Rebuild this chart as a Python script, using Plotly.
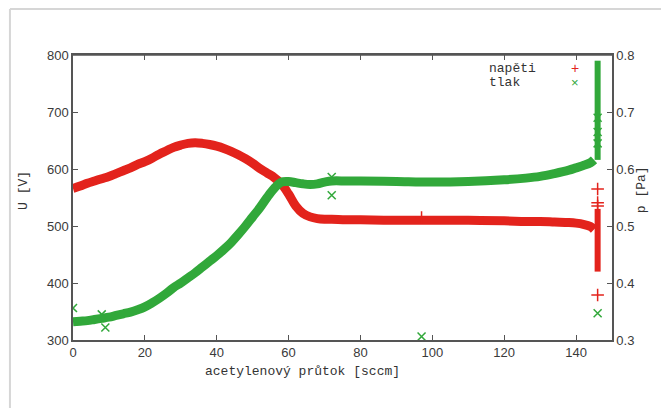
import plotly.graph_objects as go

# ---- data ----
flow = [0, 2, 4, 6, 8, 10, 12, 14, 16, 18, 20, 22, 24, 26, 28, 30, 32, 34, 36, 38,
        40, 42, 44, 46, 48, 50, 52, 54, 56, 58, 60, 62, 64, 66, 68, 70, 72, 76, 80,
        90, 100, 110, 120, 126, 130, 134, 138, 140, 142, 144, 145]
napeti = [566, 570, 575, 579, 583, 587, 592, 597, 602, 608, 613, 619, 626, 632, 638,
          642, 645, 646, 645, 643, 640, 636, 631, 625, 618, 610, 601, 593, 585, 574,
          556, 535, 522, 516, 513, 512, 512, 511, 511, 510, 510, 510, 509, 508, 508,
          507, 506, 505, 503, 499, 494]
tlak = [0.332, 0.333, 0.334, 0.336, 0.338, 0.340, 0.343, 0.346, 0.349, 0.353, 0.358,
        0.365, 0.373, 0.382, 0.392, 0.400, 0.409, 0.418, 0.428, 0.438, 0.448, 0.459,
        0.471, 0.485, 0.500, 0.516, 0.532, 0.550, 0.566, 0.577, 0.578, 0.576, 0.574,
        0.573, 0.574, 0.577, 0.579, 0.579, 0.579, 0.578, 0.577, 0.578, 0.581, 0.584,
        0.587, 0.592, 0.598, 0.602, 0.606, 0.611, 0.616]

# dense vertical spike at the end of the run
spike_flow = [146, 146]
spike_napeti = [530, 420]
spike_tlak = [0.616, 0.790]

# isolated points
out_napeti_x = [146, 146, 146, 146, 97]
out_napeti_y = [565, 541, 535, 379, 515]
out_tlak_x = [146, 97, 72, 72, 9, 8, 0, 146, 146, 146]
out_tlak_y = [0.347, 0.306, 0.554, 0.586, 0.322, 0.345, 0.356, 0.645, 0.665, 0.690]

RED = "#e3231c"
GREEN = "#31a83a"
AX = "#555555"

fig = go.Figure()

fig.add_trace(go.Scatter(x=flow, y=napeti, mode="lines", yaxis="y",
                         line=dict(color=RED, width=9, shape="spline"),
                         showlegend=False, hoverinfo="skip"))
fig.add_trace(go.Scatter(x=flow, y=tlak, mode="lines", yaxis="y2",
                         line=dict(color=GREEN, width=9, shape="spline"),
                         showlegend=False, hoverinfo="skip"))
fig.add_trace(go.Scatter(x=spike_flow, y=spike_napeti, mode="lines", yaxis="y",
                         line=dict(color=RED, width=6), showlegend=False))
fig.add_trace(go.Scatter(x=spike_flow, y=spike_tlak, mode="lines", yaxis="y2",
                         line=dict(color=GREEN, width=6), showlegend=False))
fig.add_trace(go.Scatter(x=out_napeti_x, y=out_napeti_y, mode="markers", yaxis="y",
                         marker=dict(symbol="cross-thin", size=9,
                                     line=dict(color=RED, width=1.5)),
                         showlegend=False))
fig.add_trace(go.Scatter(x=out_tlak_x, y=out_tlak_y, mode="markers", yaxis="y2",
                         marker=dict(symbol="x-thin", size=8,
                                     line=dict(color=GREEN, width=1.5)),
                         showlegend=False))

tickfont = dict(family="Liberation Sans, Arial, sans-serif", size=13, color="#3a3a3a")
mono = dict(family="Liberation Mono, Courier New, monospace", size=13, color="#333")

fig.update_layout(
    width=661, height=400,
    margin=dict(l=65, r=57, t=47, b=68),
    paper_bgcolor="white", plot_bgcolor="white",
    showlegend=False,
    xaxis=dict(range=[0, 150], dtick=20, tick0=0, showgrid=False, zeroline=False,
               showline=True, linecolor=AX, linewidth=1.5, mirror="ticks",
               ticks="inside", ticklen=5, tickcolor=AX, tickfont=tickfont),
    yaxis=dict(range=[300, 800], dtick=100, showgrid=False, zeroline=False,
               showline=True, linecolor=AX, linewidth=1.5, mirror=False,
               ticks="inside", ticklen=5, tickcolor=AX, tickfont=tickfont),
    yaxis2=dict(range=[0.3, 0.8], dtick=0.1, tickformat=".1f", overlaying="y",
                side="right", showgrid=False, zeroline=False,
                showline=True, linecolor=AX, linewidth=1.5,
                ticks="inside", ticklen=5, tickcolor=AX, tickfont=tickfont),
)

# top border line (gnuplot box)
fig.add_shape(type="line", xref="paper", yref="paper", x0=0, x1=1, y0=1, y1=1,
              line=dict(color=AX, width=1.5))

# outer light frame of the picture
fig.add_shape(type="line", xref="paper", yref="paper", x0=-0.117, x1=-0.117,
              y0=-0.3, y1=1.161, line=dict(color="#d6d6d6", width=2))
fig.add_shape(type="line", xref="paper", yref="paper", x0=-0.117, x1=1.13,
              y0=1.161, y1=1.161, line=dict(color="#d6d6d6", width=2))

# axis titles
fig.add_annotation(text="acetylenový průtok [sccm]", xref="paper", yref="paper",
                   x=0.425, y=-0.112, showarrow=False, font=mono,
                   xanchor="center", yanchor="middle")
fig.add_annotation(text="U [V]", xref="paper", yref="paper", x=-0.093, y=0.526,
                   textangle=-90, showarrow=False, font=mono,
                   xanchor="center", yanchor="middle")
fig.add_annotation(text="p [Pa]", xref="paper", yref="paper", x=1.054, y=0.526,
                   textangle=-90, showarrow=False, font=mono,
                   xanchor="center", yanchor="middle")

# key (gnuplot style: label then symbol)
fig.add_annotation(text="napěti", xref="paper", yref="paper", x=0.768, y=0.954,
                   showarrow=False, font=mono, xanchor="left", yanchor="middle")
fig.add_annotation(text="tlak", xref="paper", yref="paper", x=0.768, y=0.902,
                   showarrow=False, font=mono, xanchor="left", yanchor="middle")
fig.add_annotation(text="+", xref="paper", yref="paper", x=0.931, y=0.954,
                   showarrow=False, font=dict(family="Liberation Sans", size=14, color=RED),
                   xanchor="center", yanchor="middle")
fig.add_annotation(text="×", xref="paper", yref="paper", x=0.931, y=0.902,
                   showarrow=False, font=dict(family="Liberation Sans", size=13, color=GREEN),
                   xanchor="center", yanchor="middle")

fig.write_html("out.html")
